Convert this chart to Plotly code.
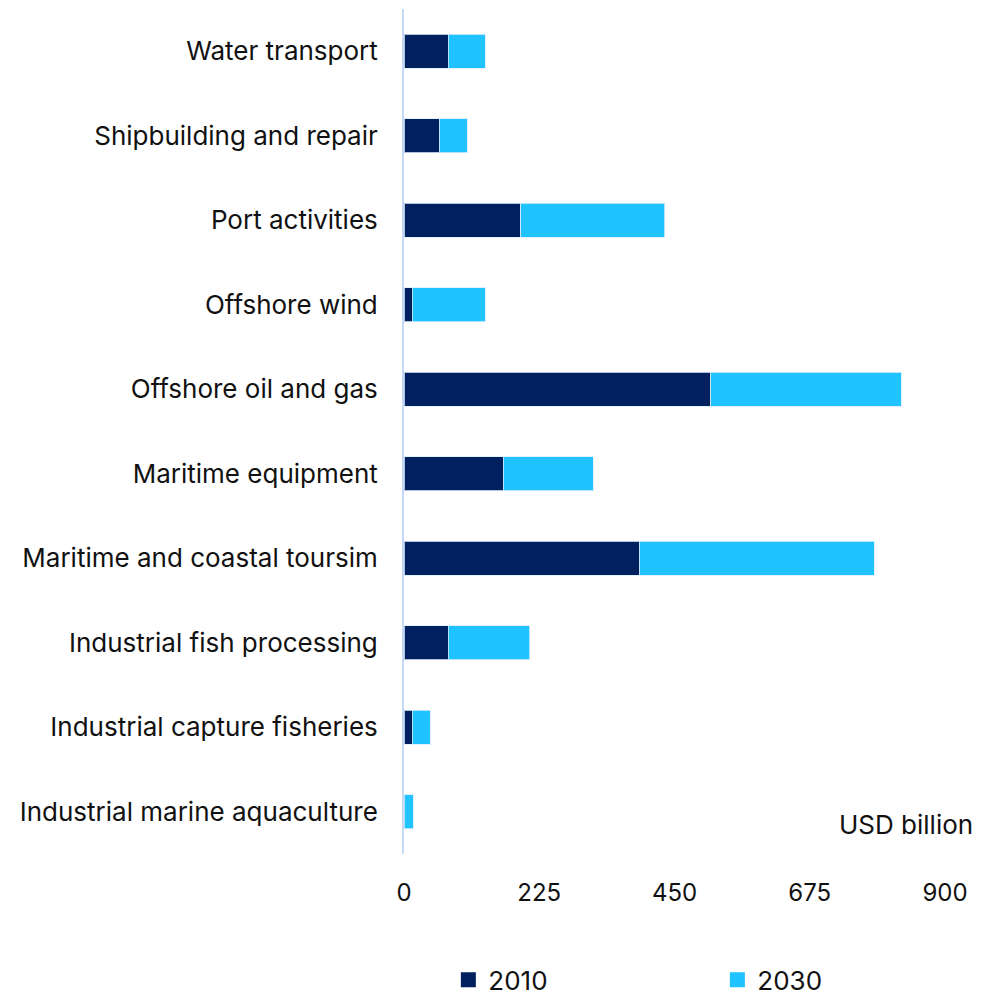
import plotly.graph_objects as go

# Ocean-based industries, gross value added (USD billion)
sectors = [
    "Water transport",
    "Shipbuilding and repair",
    "Port activities",
    "Offshore wind",
    "Offshore oil and gas",
    "Maritime equipment",
    "Maritime and coastal toursim",
    "Industrial fish processing",
    "Industrial capture fisheries",
    "Industrial marine aquaculture",
]
values_2010 = [74, 59, 194, 14, 510, 165, 391, 74, 14, 0]
values_2030 = [61, 46, 240, 121, 317, 150, 391, 135, 30, 15]
x_ticks = [0, 225, 450, 675, 900]

DARK = "#002060"
LIGHT = "#1EC3FF"
FONT = "Inter"

fig = go.Figure()
for name, vals, color in [("2010", values_2010, DARK), ("2030", values_2030, LIGHT)]:
    fig.add_trace(go.Bar(
        y=sectors, x=vals, name=name, orientation="h", showlegend=False,
        marker=dict(color=color, line=dict(color="rgba(220,236,255,0.8)", width=1)),
    ))
    # square legend key for the series
    fig.add_trace(go.Scatter(
        x=[None], y=[None], mode="markers", name=name,
        marker=dict(symbol="square", size=15, color=color),
    ))

fig.update_layout(
    barmode="stack",
    bargap=0.6,
    width=995, height=996,
    margin=dict(l=404, r=50, t=9, b=142, autoexpand=False),
    plot_bgcolor="white", paper_bgcolor="white",
    font=dict(family=FONT, size=24, color="#111111"),
    showlegend=True,
    legend=dict(
        orientation="h", traceorder="normal", itemsizing="trace",
        x=0.082, xanchor="left", y=-0.149, yanchor="middle",
        entrywidth=224, font=dict(size=26), itemwidth=30,
    ),
    xaxis=dict(
        range=[0, 900], tickvals=x_ticks, ticktext=[str(v) for v in x_ticks],
        showgrid=False, zeroline=False, showline=False,
        ticks="", ticklabelstandoff=22, tickfont=dict(size=24),
    ),
    yaxis=dict(
        categoryorder="array", categoryarray=list(reversed(sectors)),
        showgrid=False, zeroline=False,
        showline=True, linecolor="#C6D9F8", linewidth=2,
        ticks="", ticklabelstandoff=19, tickfont=dict(size=26),
    ),
    annotations=[dict(
        text="USD billion", xref="paper", yref="paper", x=1.055, y=0.035,
        xanchor="right", yanchor="middle", showarrow=False,
        font=dict(family=FONT, size=26, color="#111111"),
    )],
)

fig.write_html("out.html")
